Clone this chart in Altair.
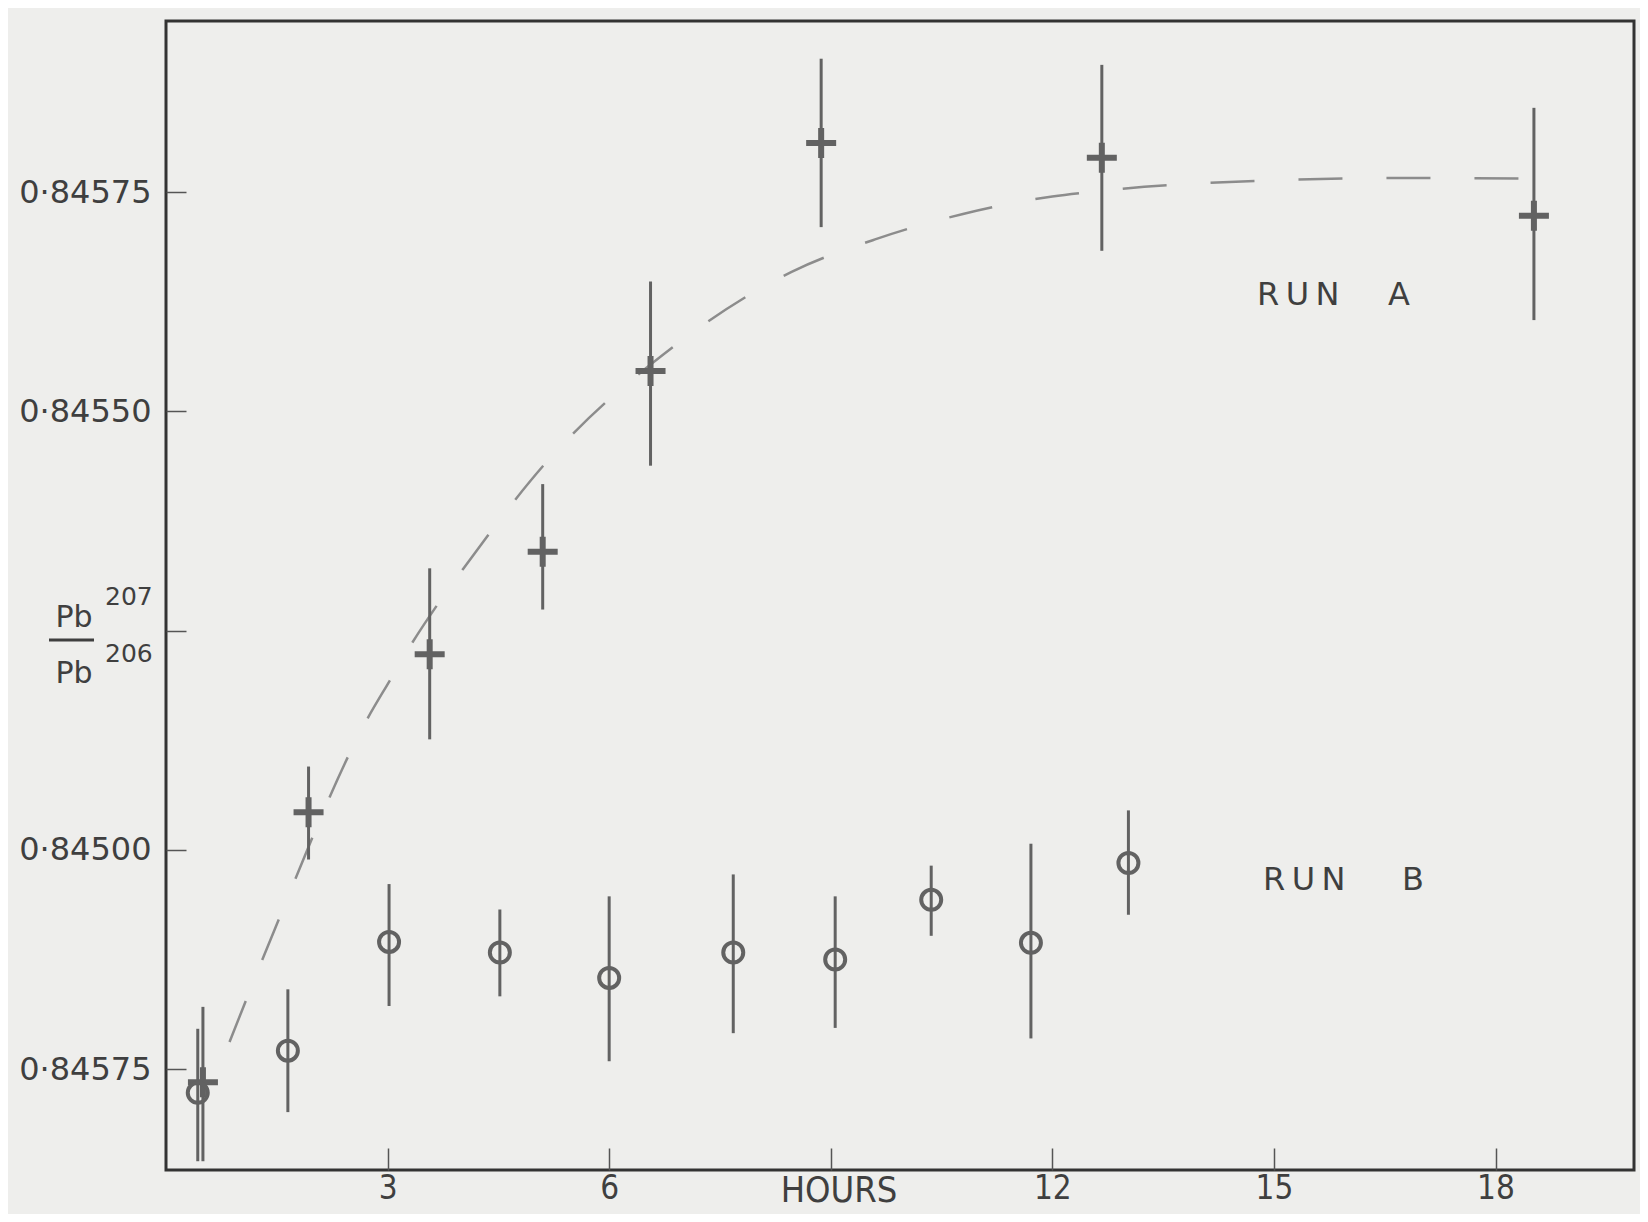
import altair as alt
import pandas as pd

# ---- data ----
a_hours = [0.50, 1.93, 3.57, 5.10, 6.56, 8.87, 12.67, 18.52]
a_ratio = [0.844735, 0.845043, 0.845223, 0.845340, 0.845546, 0.845806, 0.845789, 0.845723]
a_low   = [0.844645, 0.844989, 0.845126, 0.845274, 0.845438, 0.845710, 0.845683, 0.845604]
a_high  = [0.844821, 0.845095, 0.845321, 0.845417, 0.845648, 0.845902, 0.845895, 0.845846]

b_hours = [0.43, 1.65, 3.02, 4.52, 6.00, 7.68, 9.06, 10.36, 11.71, 13.03]
b_ratio = [0.844723, 0.844771, 0.844895, 0.844883, 0.844854, 0.844883, 0.844875, 0.844943, 0.844894, 0.844985]
b_low   = [0.844645, 0.844701, 0.844822, 0.844833, 0.844759, 0.844791, 0.844797, 0.844902, 0.844785, 0.844926]
b_high  = [0.844796, 0.844841, 0.844961, 0.844932, 0.844947, 0.844972, 0.844947, 0.844982, 0.845007, 0.845045]

curve_hours = [0.86, 1.47, 2.73, 3.03, 3.34, 3.67, 4.02, 5.15, 6.86, 8.47, 9.60, 10.79, 12.00, 12.62, 14.84, 16.88, 18.74]
curve_ratio = [0.844781, 0.844909, 0.845150, 0.845193, 0.845237, 0.845279, 0.845320, 0.845442, 0.845573,
               0.845659, 0.845696, 0.845725, 0.845745, 0.845751, 0.845763, 0.845766, 0.845765]

x_ticks = [3, 6, 9, 12, 15, 18]
y_ticks = [0.84475, 0.84500, 0.84525, 0.84550, 0.84575]

df_a = pd.DataFrame({"h": a_hours, "r": a_ratio, "lo": a_low, "hi": a_high})
df_b = pd.DataFrame({"h": b_hours, "r": b_ratio, "lo": b_low, "hi": b_high})
df_c = pd.DataFrame({"h": curve_hours, "r": curve_ratio})

W, H = 1468, 1149
INK = "#626262"
TXT = "#3f3f3f"
COND = "DejaVu Sans Condensed, Liberation Sans, sans-serif"

xs = alt.Scale(domain=[0, 19.875], nice=False, zero=False)
ys = alt.Scale(domain=[0.844635, 0.845945], nice=False, zero=False)

x_axis = alt.Axis(values=x_ticks, title=None, grid=False, domain=False, format="d",
                  tickSize=22, offset=-22, tickColor="#555", tickWidth=1.5,
                  labelPadding=2, labelFont=COND, labelFontSize=33,
                  labelColor=TXT, labelExpr="datum.value == 9 ? '' : format(datum.value, 'd')")
y_axis = alt.Axis(values=y_ticks, title=None, grid=False, domain=False,
                  tickSize=20, offset=-20, tickColor="#555", tickWidth=1.5,
                  labelPadding=15, labelFont="DejaVu Sans", labelFontSize=32,
                  labelColor=TXT,
                  labelExpr="abs(datum.value-0.84525)<1e-7 ? '' : (abs(datum.value-0.84475)<1e-7 ? '0·84575' : replace(format(datum.value,'.5f'),'.','·'))")

X = alt.X("h:Q", scale=xs, axis=x_axis)
Y = alt.Y("r:Q", scale=ys, axis=y_axis)

curve = alt.Chart(df_c).mark_line(color="#8c8c8c", strokeWidth=2.5, strokeDash=[44, 44],
                                  interpolate="monotone").encode(x=X, y=Y)

err_a = alt.Chart(df_a).mark_rule(color=INK, strokeWidth=3).encode(
    x=alt.X("h:Q", scale=xs), y=alt.Y("lo:Q", scale=ys), y2="hi:Q")
err_b = alt.Chart(df_b).mark_rule(color=INK, strokeWidth=3).encode(
    x=alt.X("h:Q", scale=xs), y=alt.Y("lo:Q", scale=ys), y2="hi:Q")

pts_a = alt.Chart(df_a).mark_point(shape="M-1,0L1,0M0,-1L0,1", size=900, filled=False,
                                   stroke=INK, strokeWidth=6, opacity=1).encode(
    x=alt.X("h:Q", scale=xs), y=alt.Y("r:Q", scale=ys))
pts_b = alt.Chart(df_b).mark_point(shape="circle", size=400, filled=False,
                                   stroke=INK, strokeWidth=4, opacity=1).encode(
    x=alt.X("h:Q", scale=xs), y=alt.Y("r:Q", scale=ys))

def txt(s, x, y, size, align="left", font="DejaVu Sans"):
    return alt.Chart(pd.DataFrame({"t": [s]})).mark_text(
        align=align, baseline="alphabetic", fontSize=size, font=font, color=TXT
    ).encode(text="t:N", x=alt.value(x), y=alt.value(y))

TS = "\u2009"
labels = [
    txt("Pb", -92, 606, 30, align="center"),
    txt("207", -61, 584, 25),
    txt("Pb", -92, 662, 30, align="center"),
    txt("206", -61, 641, 25),
    txt("R" + TS + "U" + TS + "N", 1091, 284, 32),
    txt("A", 1222, 284, 32),
    txt("R" + TS + "U" + TS + "N", 1097, 869, 32),
    txt("B", 1236, 869, 32),
    txt("HOURS", 673, 1181, 36, align="center", font=COND),
]

frac = alt.Chart(pd.DataFrame({"a": [0]})).mark_rule(color=TXT, strokeWidth=3).encode(
    x=alt.value(-117), x2=alt.value(-72), y=alt.value(619))

chart = alt.layer(curve, err_a, err_b, pts_a, pts_b, frac, *labels).properties(
    width=W, height=H,
    padding={"left": 158, "top": 13, "right": 6, "bottom": 44},
    autosize=alt.AutoSizeParams(type="none"),
    background="#eeeeec",
).configure_view(stroke="#333333", strokeWidth=3)

chart.save("out.html", embed_options={"renderer": "svg", "actions": False})
